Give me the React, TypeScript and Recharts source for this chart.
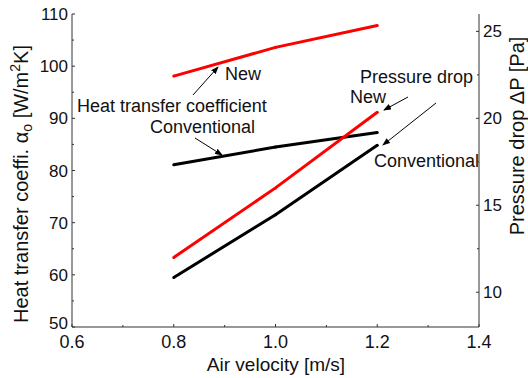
import React from 'react';
import { LineChart, Line, XAxis, YAxis, Customized } from 'recharts';

// air velocity [m/s]
const velocity = [0.8, 1.0, 1.2];
// heat transfer coefficient [W/m2K]
const htcNew = [98.1, 103.6, 107.8];
const htcConv = [81.1, 84.5, 87.3];
// pressure drop [Pa]
const dpNew = [12.0, 16.0, 20.35];
const dpConv = [10.85, 14.45, 18.45];

const xTicks = [0.6, 0.7, 0.8, 0.9, 1.0, 1.1, 1.2, 1.3, 1.4];
const xLabels = [0.6, 0.8, 1.0, 1.2, 1.4];
const leftTicks = [50, 55, 60, 65, 70, 75, 80, 85, 90, 95, 100, 105, 110];
const leftLabels = [50, 60, 70, 80, 90, 100, 110];
const rightTicks = [10, 12.5, 15, 17.5, 20, 22.5, 25];
const rightLabels = [10, 15, 20, 25];

const data = velocity.map((v, i) => ({
  v,
  htcNew: htcNew[i],
  htcConv: htcConv[i],
  dpNew: dpNew[i],
  dpConv: dpConv[i],
}));

const FONT = '"Liberation Sans", Arial, sans-serif';
const AXIS = '#333';

const isMajor = (list: number[], v: number) => list.some((m) => Math.abs(m - v) < 1e-6);

const BottomTick = (p: any) => {
  const major = isMajor(xLabels, p.payload.value);
  return (
    <g>
      <line x1={p.x} x2={p.x} y1={p.y} y2={p.y - (major ? 3 : 2)} stroke={AXIS} />
      {major && (
        <text x={p.x} y={p.y + 21} textAnchor="middle" fontSize={18} fontFamily={FONT} fill="#111">
          {p.payload.value.toFixed(1)}
        </text>
      )}
    </g>
  );
};

const TopTick = (p: any) => {
  const major = isMajor(xLabels, p.payload.value);
  return <line x1={p.x} x2={p.x} y1={p.y} y2={p.y + (major ? 3 : 2)} stroke={AXIS} />;
};

const LeftTick = (p: any) => {
  const major = isMajor(leftLabels, p.payload.value);
  // the lowest label sits a little higher so it clears the 0.6 below it
  const dy = p.payload.value === 50 ? 2 : 6;
  return (
    <g>
      <line x1={p.x} x2={p.x + (major ? 3 : 2)} y1={p.y} y2={p.y} stroke={AXIS} />
      {major && (
        <text x={p.x - 4} y={p.y + dy} textAnchor="end" fontSize={17} fontFamily={FONT} fill="#111">
          {p.payload.value}
        </text>
      )}
    </g>
  );
};

const RightTick = (p: any) => {
  const major = isMajor(rightLabels, p.payload.value);
  return (
    <g>
      <line x1={p.x} x2={p.x - (major ? 3 : 2)} y1={p.y} y2={p.y} stroke={AXIS} />
      {major && (
        <text x={p.x + 4} y={p.y + 6} textAnchor="start" fontSize={17} fontFamily={FONT} fill="#111">
          {p.payload.value}
        </text>
      )}
    </g>
  );
};

const arrows = [
  [193, 95, 218, 67],
  [195, 138, 222, 155],
  [408, 97, 384, 110],
  [436, 103, 383, 145],
];

const notes = [
  { x: 225, y: 80, t: 'New' },
  { x: 77, y: 112, t: 'Heat transfer coefficient' },
  { x: 150, y: 133, t: 'Conventional' },
  { x: 360, y: 83, t: 'Pressure drop' },
  { x: 350, y: 103, t: 'New' },
  { x: 374, y: 167, t: 'Conventional' },
];

const Annotations = () => (
  <g fontFamily={FONT}>
    <defs>
      <marker id="head" markerWidth="8" markerHeight="6" refX="7" refY="3" orient="auto" markerUnits="userSpaceOnUse">
        <path d="M0,0 L8,3 L0,6 z" fill="#000" />
      </marker>
    </defs>
    {arrows.map(([x1, y1, x2, y2], i) => (
      <line key={i} x1={x1} y1={y1} x2={x2} y2={y2} stroke="#000" strokeWidth={1} markerEnd="url(#head)" />
    ))}
    {notes.map((n, i) => (
      <text key={i} x={n.x} y={n.y} fontSize={18} fill="#111">
        {n.t}
      </text>
    ))}
    <text transform="translate(28,184) rotate(-90)" textAnchor="middle" fontSize={20} fill="#111">
      Heat transfer coeffi. α<tspan fontSize={14} dy={4}>o</tspan>
      <tspan dy={-4}> [W/m</tspan>
      <tspan fontSize={14} dy={-8}>2</tspan>
      <tspan dy={8}>K]</tspan>
    </text>
    <text transform="translate(524,136) rotate(-90)" textAnchor="middle" fontSize={20} fill="#111">
      Pressure drop ΔP [Pa]
    </text>
    <text x={276} y={371} textAnchor="middle" fontSize={19} fill="#111">
      Air velocity [m/s]
    </text>
  </g>
);

export default function App() {
  return (
    <div style={{ width: 528, height: 378, background: '#fff' }}>
      <style>{'body{margin:0}'}</style>
      <LineChart width={528} height={378} data={data} margin={{ top: 14, right: 0, bottom: 0, left: 0 }}>
        <XAxis
          xAxisId="b"
          dataKey="v"
          type="number"
          domain={[0.6, 1.4]}
          ticks={xTicks}
          height={51}
          tickSize={0}
          tickMargin={0}
          tickLine={false}
          axisLine={{ stroke: AXIS }}
          tick={BottomTick}
          interval={0}
        />
        <XAxis
          xAxisId="t"
          orientation="top"
          dataKey="v"
          type="number"
          domain={[0.6, 1.4]}
          ticks={xTicks}
          height={0}
          tickSize={0}
          tickMargin={0}
          tickLine={false}
          axisLine={{ stroke: AXIS }}
          tick={TopTick}
          interval={0}
        />
        <YAxis
          yAxisId="l"
          domain={[50, 110]}
          ticks={leftTicks}
          width={72}
          tickSize={0}
          tickMargin={0}
          tickLine={false}
          axisLine={{ stroke: AXIS }}
          tick={LeftTick}
          interval={0}
        />
        <YAxis
          yAxisId="r"
          orientation="right"
          domain={[8, 26]}
          ticks={rightTicks}
          width={49}
          tickSize={0}
          tickMargin={0}
          tickLine={false}
          axisLine={{ stroke: AXIS }}
          tick={RightTick}
          interval={0}
        />
        <Line xAxisId="b" yAxisId="l" dataKey="htcNew" stroke="#ff0000" strokeWidth={3} dot={{ r: 1.5, fill: '#ff0000', stroke: 'none' }} isAnimationActive={false} />
        <Line xAxisId="b" yAxisId="l" dataKey="htcConv" stroke="#000" strokeWidth={3} dot={{ r: 1.5, fill: '#000', stroke: 'none' }} isAnimationActive={false} />
        <Line xAxisId="b" yAxisId="r" dataKey="dpNew" stroke="#ff0000" strokeWidth={3} dot={{ r: 1.5, fill: '#ff0000', stroke: 'none' }} isAnimationActive={false} />
        <Line xAxisId="b" yAxisId="r" dataKey="dpConv" stroke="#000" strokeWidth={3} dot={{ r: 1.5, fill: '#000', stroke: 'none' }} isAnimationActive={false} />
        <Customized component={Annotations} />
      </LineChart>
    </div>
  );
}
